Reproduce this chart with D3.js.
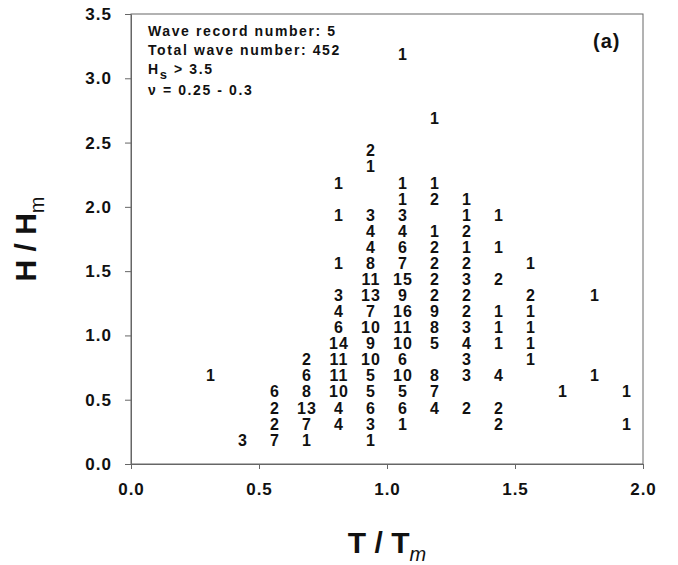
<!DOCTYPE html>
<html>
<head>
<meta charset="utf-8">
<script src="https://cdn.jsdelivr.net/npm/d3@7"></script>
<style>
  body { margin: 0; background: #fff; }
  svg text { font-family: "Liberation Sans", Arial, sans-serif; font-weight: bold; fill: #111; }
</style>
</head>
<body>
<div id="chart"></div>
<script>
// T/Tm bin centres (one column of counts per bin)
const tColumns = [0.3125, 0.4375, 0.5625, 0.6875, 0.8125, 0.9375, 1.0625,
	1.1875, 1.3125, 1.4375, 1.5625, 1.6875, 1.8125, 1.9375];

// H/Hm bin centres for each column
const hByColumn = [
	[0.6875],
	[0.1875],
	[0.5625, 0.4375, 0.3125, 0.1875],
	[0.8125, 0.6875, 0.5625, 0.4375, 0.3125, 0.1875],
	[2.1875, 1.9375, 1.5625, 1.3125, 1.1875, 1.0625, 0.9375, 0.8125, 0.6875, 0.5625, 0.4375, 0.3125],
	[2.4375, 2.3125, 1.9375, 1.8125, 1.6875, 1.5625, 1.4375, 1.3125, 1.1875, 1.0625, 0.9375, 0.8125, 0.6875, 0.5625, 0.4375, 0.3125, 0.1875],
	[3.1875, 2.1875, 2.0625, 1.9375, 1.8125, 1.6875, 1.5625, 1.4375, 1.3125, 1.1875, 1.0625, 0.9375, 0.8125, 0.6875, 0.5625, 0.4375, 0.3125],
	[2.6875, 2.1875, 2.0625, 1.8125, 1.6875, 1.5625, 1.4375, 1.3125, 1.1875, 1.0625, 0.9375, 0.6875, 0.5625, 0.4375],
	[2.0625, 1.9375, 1.8125, 1.6875, 1.5625, 1.4375, 1.3125, 1.1875, 1.0625, 0.9375, 0.8125, 0.6875, 0.4375],
	[1.9375, 1.6875, 1.4375, 1.1875, 1.0625, 0.9375, 0.6875, 0.4375, 0.3125],
	[1.5625, 1.3125, 1.1875, 1.0625, 0.9375, 0.8125],
	[0.5625],
	[1.3125, 0.6875],
	[0.5625, 0.3125]
];

// number of waves in each cell
const countByColumn = [
	[1],
	[3],
	[6, 2, 2, 7],
	[2, 6, 8, 13, 7, 1],
	[1, 1, 1, 3, 4, 6, 14, 11, 11, 10, 4, 4],
	[2, 1, 3, 4, 4, 8, 11, 13, 7, 10, 9, 10, 5, 5, 6, 3, 1],
	[1, 1, 1, 3, 4, 6, 7, 15, 9, 16, 11, 10, 6, 10, 5, 6, 1],
	[1, 1, 2, 1, 2, 2, 2, 2, 9, 8, 5, 8, 7, 4],
	[1, 1, 2, 1, 2, 3, 2, 2, 3, 4, 3, 3, 2],
	[1, 1, 2, 1, 1, 1, 4, 2, 2],
	[1, 2, 1, 1, 1, 1],
	[1],
	[1, 1],
	[1, 1]
];

const xTicks = [0, 0.5, 1.0, 1.5, 2.0];
const yTicks = [0, 0.5, 1.0, 1.5, 2.0, 2.5, 3.0, 3.5];

const cells = tColumns.flatMap((t, i) =>
	hByColumn[i].map((h, k) => ({t: t, h: h, n: countByColumn[i][k]})));

const margin = {top: 14, right: 35, bottom: 101, left: 131},
	width = 678 - margin.left - margin.right,
	height = 565 - margin.top - margin.bottom;

const svg = d3.select("#chart")
	.append("svg")
	.attr("width", 678)
	.attr("height", 565);

const g = svg.append("g")
	.attr("transform", `translate(${margin.left},${margin.top})`);

const x = d3.scaleLinear().domain([0, 2]).range([0, width]);
const y = d3.scaleLinear().domain([0, 3.5]).range([height, 0]);

// frame (top and right)
g.append("rect")
	.attr("width", width)
	.attr("height", height)
	.attr("fill", "none")
	.attr("stroke", "#666")
	.attr("stroke-width", 1);

const xAxis = g.append("g")
	.attr("transform", `translate(0,${height})`)
	.call(d3.axisBottom(x).tickValues(xTicks).tickFormat(d3.format(".1f"))
		.tickSize(5).tickSizeOuter(0).tickPadding(14));

const yAxis = g.append("g")
	.call(d3.axisLeft(y).tickValues(yTicks).tickFormat(d3.format(".1f"))
		.tickSize(6).tickSizeOuter(0).tickPadding(13));

[xAxis, yAxis].forEach(a => {
	a.select(".domain").attr("stroke", "#666");
	a.selectAll(".tick line").attr("stroke", "#666");
	a.selectAll("text")
		.style("font-size", "17px")
		.style("letter-spacing", "1px")
		.attr("fill", "#111");
});

// counts
g.selectAll("text.count")
	.data(cells)
	.join("text")
	.attr("class", "count")
	.attr("x", d => x(d.t))
	.attr("y", d => y(d.h))
	.attr("dy", "0.36em")
	.attr("text-anchor", "middle")
	.style("font-size", "16px")
	.style("letter-spacing", "1px")
	.text(d => d.n);

// info block
const info = g.append("g")
	.attr("transform", "translate(17,0)")
	.style("font-size", "14px")
	.style("letter-spacing", "1.6px");

info.append("text").attr("y", 22).text("Wave record number: 5");
info.append("text").attr("y", 41).text("Total wave number: 452");
const hs = info.append("text").attr("y", 60);
hs.append("tspan").text("H");
hs.append("tspan").attr("dy", 5).style("font-size", "13px").text("s");
hs.append("tspan").attr("dy", -5).text(" > 3.5");
info.append("text").attr("y", 81).text("ν = 0.25 - 0.3");

g.append("text")
	.attr("x", width - 50)
	.attr("y", 34)
	.style("font-size", "20px")
	.style("letter-spacing", "1px")
	.text("(a)");

// axis titles
const xTitle = svg.append("text")
	.attr("x", margin.left + width / 2)
	.attr("y", 553)
	.attr("text-anchor", "middle")
	.style("font-size", "30px");
xTitle.append("tspan").text("T / T");
xTitle.append("tspan").attr("dy", 8).style("font-size", "20px")
	.style("font-style", "italic").style("font-weight", "normal").text("m");

const yTitle = svg.append("text")
	.attr("transform", `translate(36,${margin.top + height / 2}) rotate(-90)`)
	.attr("text-anchor", "middle")
	.style("font-size", "30px");
yTitle.append("tspan").text("H / H");
yTitle.append("tspan").attr("dy", 8).style("font-size", "20px")
	.style("font-weight", "normal").text("m");
</script>
</body>
</html>
